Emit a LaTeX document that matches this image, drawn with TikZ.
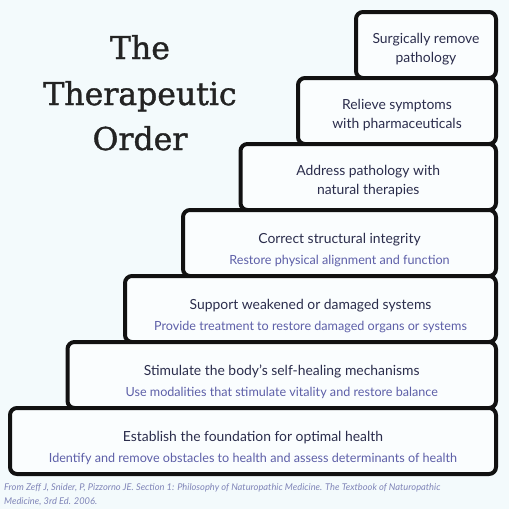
\documentclass[tikz,border=0pt]{standalone}
\usepackage{fontspec}
\setmainfont{Lato}
\newfontfamily\titlefont[FakeBold=1.2]{DejaVu Serif}
\usepackage{xcolor}
\definecolor{cBack}{HTML}{F3FAFC}
\definecolor{cFill}{HTML}{FAFDFE}
\definecolor{cLine}{HTML}{111111}
\definecolor{cTitle}{HTML}{232323}
\definecolor{cMain}{HTML}{2B2D4C}
\definecolor{cSub}{HTML}{5D5FA8}
\definecolor{cNote}{HTML}{8085B8}
\usepackage{tikz}
\usetikzlibrary{positioning}
\tikzset{
  stair-box/.style={draw=cLine,line width=4pt,rounded corners=7pt,fill=cFill,
    anchor=north east,inner sep=0pt,outer sep=0pt,minimum height=66pt},
  main-text/.style={anchor=base,inner sep=0pt,text=cMain,
    font=\fontsize{13.9}{16}\selectfont},
  sub-text/.style={anchor=base,inner sep=0pt,text=cSub,
    font=\fontsize{12.6}{15}\selectfont},
  title-text/.style={anchor=base,inner sep=0pt,text=cTitle,
    font=\titlefont\fontsize{31.5}{34}\selectfont},
  note-text/.style={anchor=base west,inner sep=0pt,text=cNote,
    font=\itshape\fontsize{9.3}{11}\selectfont},
}

\begin{document}
\begin{tikzpicture}[x=1pt,y=-1pt]
  \path[use as bounding box,fill=cBack] (0,0) rectangle (509,509);
  % title
  \node[title-text] (title1) at (140,59) {The};
  \node[title-text] (title2) at (140,105) {Therapeutic};
  \node[title-text] (title3) at (140,150) {Order};
  % the steps, top to bottom
  \foreach \i/\x/\y in {1/356/12, 2/298/78, 3/240.5/144, 4/183/210,
      5/125/276, 6/67.5/342, 7/10/408} {
    \node[stair-box,minimum width=496pt-\x pt] (lvl\i) at (496,\y) {};
  }
  \foreach \i/\first/\second in {1/Surgically remove/pathology,
      2/Relieve symptoms/with pharmaceuticals,
      3/Address pathology with/natural therapies} {
    \node[main-text] (head\i) at ([yshift=-31pt]lvl\i.north) {\first};
    \node[main-text] (tail\i) at ([yshift=-50pt]lvl\i.north) {\second};
  }
  \foreach \i/\first/\second in {4/Correct structural integrity/Restore physical alignment and function,
      5/Support weakened or damaged systems/Provide treatment to restore damaged organs or systems,
      6/Stimulate the body's self-healing mechanisms/Use modalities that stimulate vitality and restore balance,
      7/Establish the foundation for optimal health/Identify and remove obstacles to health and assess determinants of health} {
    \node[main-text] (head\i) at ([yshift=-33pt]lvl\i.north) {\first};
    \node[sub-text] (tail\i) at ([yshift=-54pt]lvl\i.north) {\second};
  }
  % source
  \node[note-text] (note1) at (4,490) {From Zeff J, Snider, P, Pizzorno JE. Section 1: Philosophy of Naturopathic Medicine. The Textbook of Naturopathic};
  \node[note-text] (note2) at (4,504) {Medicine, 3rd Ed. 2006.};
\end{tikzpicture}
\end{document}
